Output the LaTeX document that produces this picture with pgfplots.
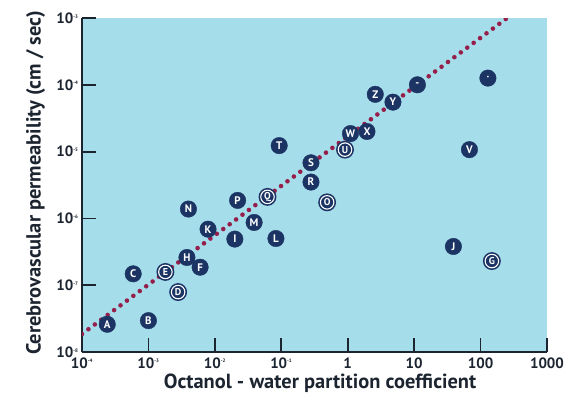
\documentclass[border=0pt]{standalone}
\usepackage{fontspec}
\setmainfont{PT Sans}
\usepackage{pgfplots}
\pgfplotsset{compat=1.18}
\usetikzlibrary{calc}
\definecolor{bgblue}{RGB}{166,221,235}
\definecolor{navy}{RGB}{27,52,100}
\definecolor{axisdark}{RGB}{28,36,48}
\definecolor{dotred}{RGB}{150,30,75}

\pgfplotstableread{
x y label
2.4e-4 2.6e-8 A
1.0e-3 2.95e-8 B
5.9e-4 1.48e-7 C
6.0e-3 1.86e-7 F
3.8e-3 2.6e-7 H
4.0e-3 1.38e-6 N
7.9e-3 6.9e-7 K
2.0e-2 4.9e-7 I
2.2e-2 1.86e-6 P
3.9e-2 8.7e-7 M
8.3e-2 5.0e-7 L
9.3e-2 1.23e-5 T
0.28 6.8e-6 S
0.28 3.5e-6 R
1.1 1.86e-5 W
1.95 2.0e-5 X
2.6 7.2e-5 Z
4.8 5.5e-5 Y
11.2 1.0e-4 -
129 1.26e-4 ·
68 1.07e-5 V
39 3.8e-7 J
}\solidpts

\pgfplotstableread{
x y label
2.8e-3 7.9e-8 D
1.8e-3 1.58e-7 E
6.2e-2 2.1e-6 Q
0.49 1.74e-6 O
0.91 1.07e-5 U
148 2.3e-7 G
}\ringpts

\begin{document}
\begin{tikzpicture}
\begin{axis}[
    name=ax,
    scale only axis,
    width=465bp, height=334bp,
    xmode=log, ymode=log,
    xmin=1e-4, xmax=1e3,
    ymin=1e-8, ymax=1e-3,
    axis lines*=left,
    axis line style={axisdark, line width=1.8bp},
    axis background/.style={fill=bgblue},
    xtick={1e-4,1e-3,1e-2,1e-1,1,10,100,1000},
    xticklabels={10\textsuperscript{\tiny -4},10\textsuperscript{\tiny -3},10\textsuperscript{\tiny -2},10\textsuperscript{\tiny -1},1,10,100,1000},
    ytick={1e-8,1e-7,1e-6,1e-5,1e-4,1e-3},
    yticklabels={10\textsuperscript{\tiny -8},10\textsuperscript{\tiny -7},10\textsuperscript{\tiny -6},10\textsuperscript{\tiny -5},10\textsuperscript{\tiny -4},10\textsuperscript{\tiny -3}},
    xminorticks=false, yminorticks=false,
    tick align=inside,
    major tick length=14bp,
    tick style={axisdark, line width=1.8bp},
    ticklabel style={font=\fontsize{15}{16}\selectfont\bfseries, text=axisdark},
    xticklabel style={yshift=-2bp},
    xlabel={Octanol - water partition coefficient},
    ylabel={Cerebrovascular permeability (cm / sec)},
    label style={font=\fontsize{20.5}{22}\selectfont\bfseries, text=axisdark},
    xlabel style={at={(axis description cs:0.512,-0.095)}, anchor=center},
    ylabel style={at={(axis description cs:-0.100,0.506)}, anchor=center},
    clip=true,
]
\addplot[dotred, line width=4.6bp, line cap=round, dash pattern=on 0pt off 8bp]
  coordinates {(1e-4,1.86e-8) (251,1e-3)};
\addplot[only marks, mark=none, point meta=explicit symbolic, nodes near coords,
  nodes near coords style={anchor=center, circle, fill=navy, draw=navy, inner sep=0pt,
    minimum size=16.5bp, text=white, font=\fontsize{11}{11}\selectfont\bfseries}]
  table[meta=label] {\solidpts};
\addplot[only marks, mark=none, point meta=explicit symbolic, nodes near coords,
  nodes near coords style={anchor=center, circle, fill=navy, draw=navy, double=white,
    double distance=1.1bp, line width=1.6bp, inner sep=0pt,
    minimum size=13.5bp, text=white, font=\fontsize{10}{10}\selectfont\bfseries}]
  table[meta=label] {\ringpts};
\end{axis}
\path ($(ax.south west)+(-82bp,-48bp)$) rectangle ($(ax.north east)+(25bp,18bp)$);
\end{tikzpicture}
\end{document}
